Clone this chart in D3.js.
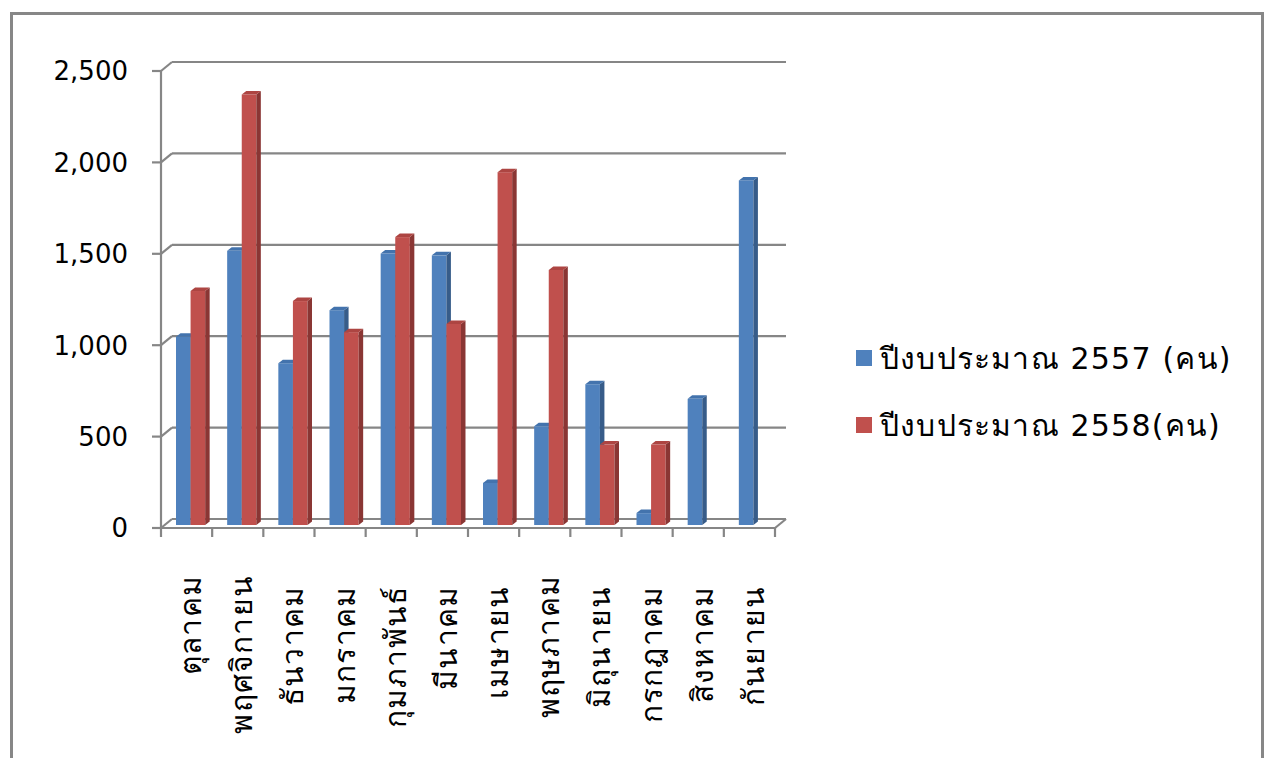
<!DOCTYPE html>
<html>
<head>
<meta charset="utf-8">
<script src="https://cdn.jsdelivr.net/npm/d3@7"></script>
<style>
  body { margin: 0; background: #fff; }
  text { font-family: "DejaVu Sans", Tahoma, sans-serif; fill: #000; }
</style>
</head>
<body>
<div id="chart"></div>
<script>
// data
const months = ["ตุลาคม", "พฤศจิกายน", "ธันวาคม ", "มกราคม ", "กุมภาพันธ์ ", "มีนาคม ",
  "เมษายน ", "พฤษภาคม", "มิถุนายน ", "กรกฎาคม ", "สิงหาคม ", "กันยายน "];
const budget2557 = [1030, 1500, 885, 1175, 1485, 1475, 230, 540, 770, 65, 690, 1885];
const budget2558 = [1280, 2355, 1225, 1055, 1575, 1100, 1930, 1395, 440, 440, 0, 0];
const seriesNames = ["ปีงบประมาณ 2557 (คน)", "ปีงบประมาณ 2558(คน)"];
const yTicks = [0, 500, 1000, 1500, 2000, 2500];

const colors = [
  { front: "#4f81bd", side: "#375c89", top: "#4373ad" },
  { front: "#c0504d", side: "#8a3634", top: "#ad4542" }
];

var width = 1269, height = 758;
// 3d box: front plane and the depth offset of the back wall
var plot = { left: 161, right: 775, top: 71, bottom: 528 };
var depth = { dx: 11, dy: -9 };
var barOff = { dx: 4, dy: -3 };   // bars sit a little behind the front
var barDepth = { dx: 4.5, dy: -3.5 };

var svg = d3.select("#chart")
  .append("svg")
  .attr("width", width)
  .attr("height", height);

// outer frame
svg.append("rect")
  .attr("x", 11.5).attr("y", 13.5)
  .attr("width", 1251).attr("height", 760)
  .attr("fill", "none")
  .attr("stroke", "#878787")
  .attr("stroke-width", 3);

const x = d3.scaleBand()
  .domain(months)
  .range([plot.left, plot.right]);

const x1 = d3.scaleBand()
  .domain([0, 1])
  .range([x.bandwidth() * 0.215, x.bandwidth() * 0.785]);

const y = d3.scaleLinear()
  .domain([0, 2500])
  .range([plot.bottom, plot.top]);

var grid = svg.append("g")
  .attr("stroke", "#868686")
  .attr("stroke-width", 2.2)
  .attr("fill", "none");

// back wall gridlines
grid.selectAll(".gl")
  .data(yTicks)
  .join("line")
  .attr("x1", plot.left + depth.dx)
  .attr("x2", plot.right + depth.dx)
  .attr("y1", d => y(d) + depth.dy)
  .attr("y2", d => y(d) + depth.dy);

// side wall diagonals
grid.selectAll(".dg")
  .data(yTicks)
  .join("line")
  .attr("x1", plot.left)
  .attr("x2", plot.left + depth.dx)
  .attr("y1", d => y(d))
  .attr("y2", d => y(d) + depth.dy);

// y axis line + ticks
grid.append("line")
  .attr("x1", plot.left).attr("x2", plot.left)
  .attr("y1", y(2500)).attr("y2", y(0));
grid.selectAll(".yt")
  .data(yTicks)
  .join("line")
  .attr("x1", plot.left - 9).attr("x2", plot.left)
  .attr("y1", d => y(d)).attr("y2", d => y(d));

// floor front edge, right edge and x ticks
grid.append("line")
  .attr("x1", plot.left).attr("x2", plot.right)
  .attr("y1", y(0)).attr("y2", y(0));
grid.append("line")
  .attr("x1", plot.right).attr("x2", plot.right + depth.dx)
  .attr("y1", y(0)).attr("y2", y(0) + depth.dy);
grid.selectAll(".xt")
  .data(months.map(m => x(m)).concat([plot.right]))
  .join("line")
  .attr("x1", d => d).attr("x2", d => d)
  .attr("y1", y(0)).attr("y2", y(0) + 9);

// y labels
svg.append("g")
  .selectAll("text")
  .data(yTicks)
  .join("text")
  .attr("x", 128)
  .attr("y", d => y(d))
  .attr("dy", "0.36em")
  .attr("text-anchor", "end")
  .style("font-size", "26px")
  .text(d => d3.format(",")(d));

// bars
var bars = [];
months.forEach(function (m, i) {
  [budget2557[i], budget2558[i]].forEach(function (v, s) {
    if (v > 0) bars.push({ m: m, s: s, v: v });
  });
});

var barG = svg.append("g");
bars.forEach(function (b) {
  var x0 = x(b.m) + x1(b.s) + barOff.dx;
  var w = x1.bandwidth();
  var yT = y(b.v) + barOff.dy;
  var yB = y(0) + barOff.dy;
  var c = colors[b.s];
  var g = barG.append("g");
  // front face
  g.append("rect")
    .attr("x", x0).attr("y", yT)
    .attr("width", w).attr("height", yB - yT)
    .attr("fill", c.front);
  // right side
  g.append("path")
    .attr("d", d3.line()([[x0 + w, yT], [x0 + w + barDepth.dx, yT + barDepth.dy],
      [x0 + w + barDepth.dx, yB + barDepth.dy], [x0 + w, yB]]))
    .attr("fill", c.side);
  // top
  g.append("path")
    .attr("d", d3.line()([[x0, yT], [x0 + w, yT],
      [x0 + w + barDepth.dx, yT + barDepth.dy], [x0 + barDepth.dx, yT + barDepth.dy]]))
    .attr("fill", c.top);
});

// category labels, rotated
svg.append("g")
  .selectAll("text")
  .data(months)
  .join("text")
  .attr("transform", d => "translate(" + (x(d) + x.bandwidth() / 2 + 4) + ",575) rotate(-90)")
  .attr("dy", "0.35em")
  .attr("text-anchor", "end")
  .style("font-size", "30px")
  .style("letter-spacing", "1.2px")
  .style("white-space", "pre")
  .text(d => d);

// legend
var legend = svg.append("g")
  .selectAll("g")
  .data(seriesNames)
  .join("g")
  .attr("transform", (d, i) => "translate(856," + (350 + i * 67) + ")");
legend.append("rect")
  .attr("width", 16).attr("height", 16)
  .attr("fill", (d, i) => colors[i].front);
legend.append("text")
  .attr("x", 24)
  .attr("y", 8)
  .attr("dy", "0.35em")
  .style("font-size", "30px")
  .style("letter-spacing", "1.2px")
  .text(d => d);
</script>
</body>
</html>
